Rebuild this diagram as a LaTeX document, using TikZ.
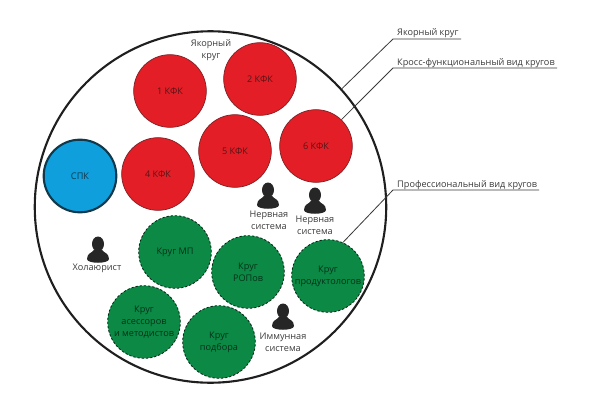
\documentclass[tikz,border=0pt]{standalone}
\usepackage{fontspec}
\setmainfont{Open Sans}
\definecolor{kfkred}{HTML}{E31E26}
\definecolor{kfkedge}{HTML}{7C2024}
\definecolor{spkblue}{HTML}{0E9FDC}
\definecolor{spkedge}{HTML}{12384C}
\definecolor{krugreen}{HTML}{0C8A45}
\definecolor{inktext}{HTML}{3A3A3C}
\tikzset{
  kfk/.style={circle, draw=kfkedge, fill=kfkred, line width=0.6pt, minimum size=62pt, inner sep=0pt, text=kfkedge!70!black, align=center},
  spk/.style={circle, draw=spkedge, fill=spkblue, line width=1.8pt, minimum size=62pt, inner sep=0pt, text=spkedge, align=center},
  krug/.style={circle, draw=black!70!krugreen, fill=krugreen, line width=0.7pt, dash pattern=on 2pt off 1.6pt, minimum size=62pt, inner sep=0pt, text=black!65!krugreen, align=center},
  caption/.style={text=inktext, align=center},
  leader/.style={draw=inktext, line width=0.7pt},
  personicon/.pic={
    \fill[black!85] (0,-6) ellipse (6 and 7.5);
    \fill[black!85] (-11,9) .. controls (-11,3) and (-6,3) .. (-4,0)
      -- (4,0) .. controls (6,3) and (11,3) .. (11,9)
      .. controls (11,14) and (-11,14) .. (-11,9) -- cycle;
  }
}
\begin{document}
\begin{tikzpicture}[x=0.3mm, y=-0.3mm, font=\fontsize{7.8}{10.2}\selectfont]
  \useasboundingbox (0,0) rectangle (591,413);

  % внешний круг
  \node[circle, draw=black!88, line width=1.8pt, minimum size=300pt, inner sep=0pt] (ring) at (210.5,207) {};

  \node[kfk] (kfk1) at (170,91) {1 КФК};
  \node[kfk] (kfk2) at (260,79) {2 КФК};
  \node[kfk] (kfk4) at (158,174) {4 КФК};
  \node[kfk] (kfk5) at (235,151) {5 КФК};
  \node[kfk] (kfk6) at (316,146) {6 КФК};
  \node[spk] (spk) at (80,176) {СПК};

  \node[krug] (mp) at (175,252) {Круг МП};
  \node[krug] (rop) at (248,272) {Круг\\РОПов};
  \node[krug] (prod) at (328,276) {Круг\\продуктологов};
  \node[krug] (asess) at (144,322) {Круг\\асессоров\\и методистов};
  \node[krug] (podb) at (219,342) {Круг\\подбора};

  \pic at (268,196) {personicon};
  \pic at (315,201) {personicon};
  \pic at (98,250) {personicon};
  \pic at (283,317) {personicon};

  \node[caption] (yakor) at (211,50) {Якорный\\круг};
  \node[caption] (nerv1) at (269,220) {Нервная\\система};
  \node[caption] (nerv2) at (315,225) {Нервная\\система};
  \node[caption] (holo) at (97,268) {Холаюрист};
  \node[caption] (immun) at (283,342) {Иммунная\\система};

  \coordinate (E1) at (393,39);
  \coordinate (E2) at (393,68);
  \coordinate (E3) at (393,190);
  \coordinate (F1) at (461,39);
  \coordinate (F2) at (557,68);
  \coordinate (F3) at (539,190);

  \draw[leader] (ring.42) -- (E1) -- (F1);
  \draw[leader] (kfk6.46) -- (E2) -- (F2);
  \draw[leader] (prod.66) -- (E3) -- (F3);

  \node[caption, anchor=base west, inner sep=0pt] (lab1) at (397,36) {Якорный круг};
  \node[caption, anchor=base west, inner sep=0pt] (lab2) at (397,65) {Кросс-функциональный вид кругов};
  \node[caption, anchor=base west, inner sep=0pt] (lab3) at (397,187) {Профессиональный вид кругов};
\end{tikzpicture}
\end{document}
